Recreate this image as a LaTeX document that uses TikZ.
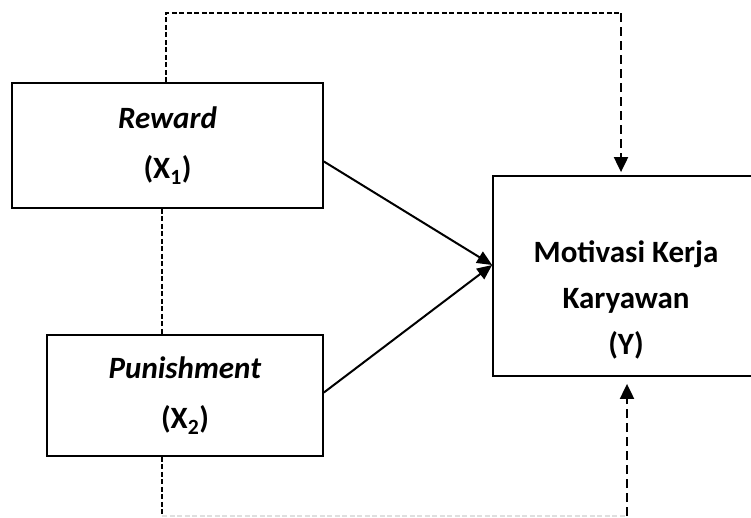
\documentclass[tikz,border=0pt]{standalone}
\usepackage{fontspec}
\setmainfont{Carlito}
\usetikzlibrary{positioning,calc,arrows.meta}

\begin{document}
\begin{tikzpicture}[x=1pt, y=-1pt,
  varbox/.style={draw, line width=1.8pt, align=center, inner sep=0pt,
    font=\bfseries\fontsize{31}{50}\selectfont},
  vartext/.style={align=center, font=\bfseries\fontsize{31}{46}\selectfont},
  finedash/.style={line width=1.5pt, dash pattern=on 5pt off 2.5pt},
  longdash/.style={line width=2pt, dash pattern=on 9pt off 5pt},
  faintdash/.style={line width=1.2pt, gray!25, dash pattern=on 5pt off 2.5pt},
  tip/.style={-{Triangle[length=15pt,width=14pt]}},
  effect/.style={line width=2pt, -{Triangle[length=15pt,width=13pt]}},
]
\useasboundingbox (0,0) rectangle (751,517);

% variables
\node[varbox, minimum width=311pt, minimum height=125pt] (reward) at (167.5,145.5)
  {\textit{Reward}\\(X\textsubscript{1})};
\node[varbox, minimum width=276pt, minimum height=121pt] (punish) at (185,395.5)
  {\textit{Punishment}\\(X\textsubscript{2})};
\node[varbox, minimum width=259pt, minimum height=200pt] (motiv) at (622.5,276) {};
\node[vartext] (motivlabel) at (626,300) {Motivasi Kerja\\Karyawan\\(Y)};

% bends of the dashed links
\coordinate (topright) at (621,13);
\coordinate (botleft) at (162,516);
\coordinate (botright) at (627,516);

% dashed links
\draw[finedash] (reward.north -| 166,0) |- (topright);
\draw[longdash, tip, shorten >=3pt] (topright) -- (topright |- motiv.north);
\draw[finedash] (reward.south -| botleft) -- (punish.north -| botleft);
\draw[finedash] (punish.south -| botleft) -- (botleft);
\draw[faintdash] (botleft) -- (botright);
\draw[longdash, tip, shorten >=7pt] (botright) -- (botright |- motiv.south);

% direct effects
\draw[effect] ($(reward.east)+(0,16)$) -- ($(motiv.west)+(0,-11)$);
\draw[effect] ($(punish.east)+(0,-3)$) -- ($(motiv.west)+(0,-11)$);
\end{tikzpicture}
\end{document}
